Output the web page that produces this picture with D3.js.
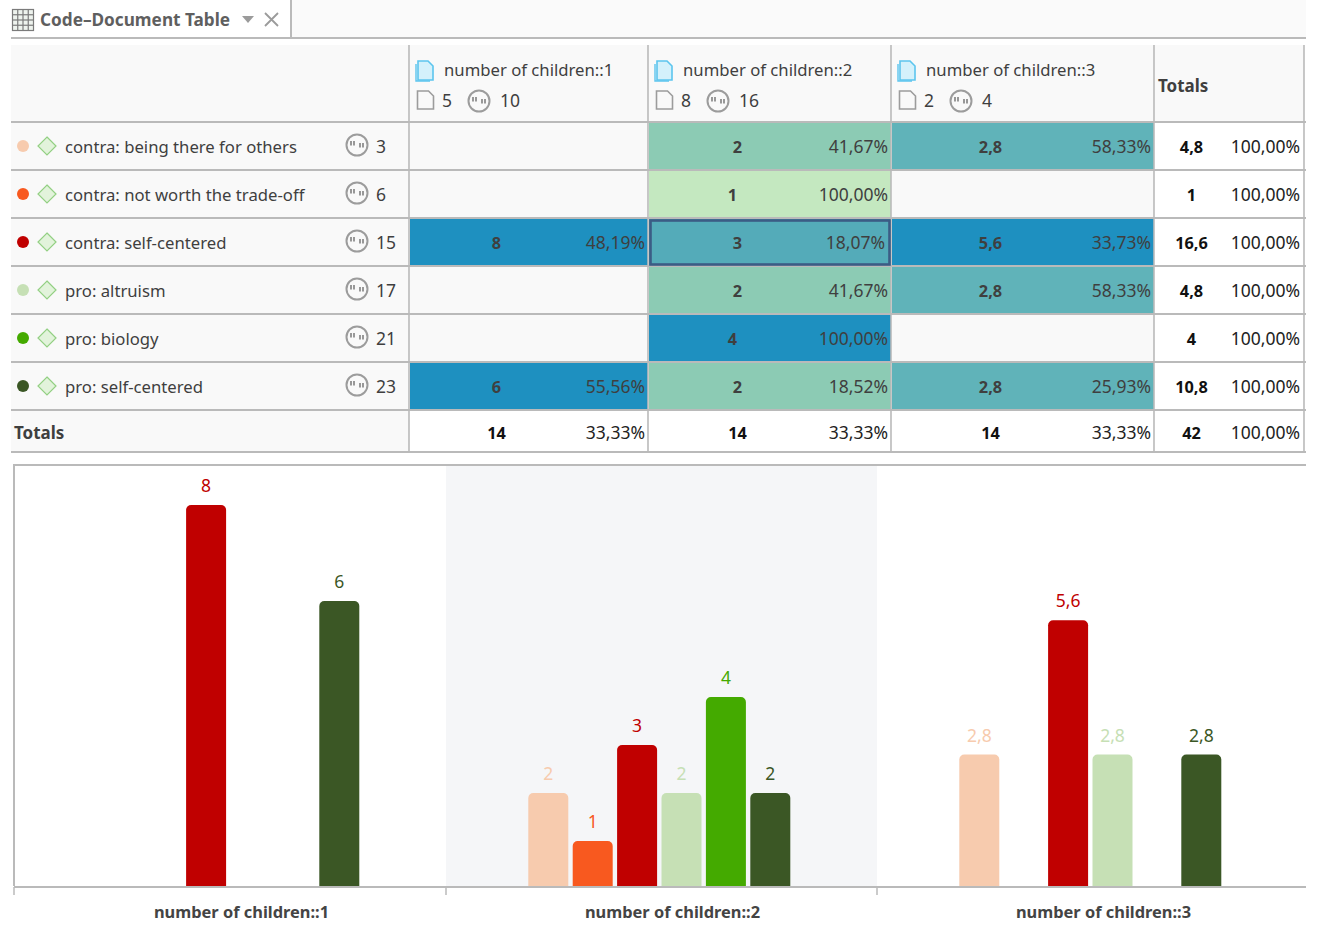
<!DOCTYPE html>
<html>
<head>
<meta charset="utf-8">
<script src="https://cdnjs.cloudflare.com/ajax/libs/d3/7.8.5/d3.min.js"></script>
<style>
html, body { margin: 0; padding: 0; background: #fff; }
svg { display: block; }
text { font-family: "Noto Sans", "Open Sans", sans-serif; fill: #3f3f3f; }
</style>
</head>
<body>
<svg></svg>
<script>
// data
var codes = ["contra: being there for others", "contra: not worth the trade-off", "contra: self-centered", "pro: altruism", "pro: biology", "pro: self-centered"];
var codeCounts = [3, 6, 15, 17, 21, 23];
var codeColors = ["#f7cbae", "#f8591f", "#c00000", "#c6e0b5", "#44aa00", "#3b5725"];
var groups = ["number of children::1", "number of children::2", "number of children::3"];
var groupDocs = [5, 8, 2];
var groupSegments = [10, 16, 4];
var valuesGroup1 = [null, null, 8, null, null, 6];
var valuesGroup2 = [2, 1, 3, 2, 4, 2];
var valuesGroup3 = [2.8, null, 5.6, 2.8, null, 2.8];
var columnTotals = [14, 14, 14];
var grandTotal = 42;
var allValues = [valuesGroup1, valuesGroup2, valuesGroup3];

var svgWidth = 1321, svgHeight = 947;
var svg = d3.select("svg").attr("width", svgWidth).attr("height", svgHeight);

var locale = d3.formatLocale({decimal: ",", thousands: ".", grouping: [3], currency: ["", ""]});
var pct = locale.format(".2f");
var fmtValue = function(v) { return String(v).replace(".", ","); };
var fmtPct = function(share) { return pct(share * 100) + "%"; };

var lineColor = "#bababa", panelColor = "#f9f9f9";
var numSize = 17.5, nameSize = 16.7, boldSize = 16.3;

// cell shading goes by value
var heat = d3.scaleThreshold()
    .domain([1.5, 2.5, 2.9, 3.5])
    .range(["#c4e8c0", "#8ccbb4", "#60b3b9", "#54abb9", "#1e90c0"]);

// ---- tab strip
svg.append("rect").attr("x", 291).attr("y", 0).attr("width", 1015).attr("height", 38).attr("fill", "#fafafa");
svg.append("line").attr("x1", 11).attr("x2", 1306).attr("y1", 38).attr("y2", 38).attr("stroke", lineColor).attr("stroke-width", 2);
svg.append("line").attr("x1", 291).attr("x2", 291).attr("y1", 0).attr("y2", 38).attr("stroke", lineColor).attr("stroke-width", 2);

var tabIcon = svg.append("g").attr("fill", "none").attr("stroke", "#7b7b7b").attr("stroke-width", 1.2);
tabIcon.append("rect").attr("x", 12.5).attr("y", 9.5).attr("width", 21).attr("height", 21).attr("fill", "#eef3ee");
d3.range(1, 4).forEach(function(i) {
    tabIcon.append("line").attr("x1", 12.5 + i * 5.25).attr("x2", 12.5 + i * 5.25).attr("y1", 9.5).attr("y2", 30.5);
    tabIcon.append("line").attr("x1", 12.5).attr("x2", 33.5).attr("y1", 9.5 + i * 5.25).attr("y2", 9.5 + i * 5.25);
});
svg.append("text").attr("x", 40).attr("y", 26).attr("font-size", 17.2).attr("font-weight", 700).style("fill", "#5f5f5f").text("Code–Document Table");
svg.append("path").attr("d", "M242,16h12l-6,7z").attr("fill", "#9b9b9b");
svg.append("path").attr("d", "M265,13l13,13M278,13l-13,13").attr("stroke", "#9b9b9b").attr("stroke-width", 1.8).attr("fill", "none");

// ---- table
var colEdges = [409, 648, 891, 1154, 1304];
var rowTop = d3.scaleBand().domain(d3.range(codes.length)).range([122, 410]);
var headerTop = 45, totalsBottom = 452;

svg.append("rect").attr("x", 11).attr("y", headerTop).attr("width", 1293).attr("height", totalsBottom - headerTop).attr("fill", panelColor);
svg.append("rect").attr("x", 409).attr("y", 410).attr("width", 895).attr("height", 42).attr("fill", "#fff");
svg.append("rect").attr("x", 1154).attr("y", 122).attr("width", 150).attr("height", 288).attr("fill", "#fff");

function icons(g, cx, cy) {
    g.append("circle").attr("cx", cx).attr("cy", cy).attr("r", 10.5).attr("fill", "none").attr("stroke", "#9c9c9c").attr("stroke-width", 2);
    g.append("path").attr("d", "M" + (cx - 6) + "," + (cy - 4) + "v4.5M" + (cx - 3) + "," + (cy - 4) + "v4.5M" + (cx + 3) + "," + (cy - 2) + "v4.5M" + (cx + 6) + "," + (cy - 2) + "v4.5")
        .attr("stroke", "#808080").attr("stroke-width", 1.6).attr("fill", "none");
}

function docIcon(g, x, y, w, h, fill, stroke) {
    g.append("path")
        .attr("d", "M" + x + "," + y + "h" + (w - 5) + "l5,5v" + (h - 5) + "h" + (-w) + "z")
        .attr("fill", fill).attr("stroke", stroke).attr("stroke-width", 1.6);
}

// header cells
var heads = svg.selectAll("g.head").data(groups).enter().append("g").attr("class", "head");
heads.each(function(name, i) {
    var g = d3.select(this), x0 = colEdges[i];
    docIcon(g, x0 + 9, 61, 15, 19, "#d4f1fb", "#5cc5ee");
    g.append("path").attr("d", "M" + (x0 + 7) + ",64v17h14").attr("fill", "none").attr("stroke", "#5cc5ee").attr("stroke-width", 1.4);
    g.append("text").attr("x", x0 + 35).attr("y", 76).attr("font-size", nameSize).text(name);
    docIcon(g, x0 + 8.5, 91, 16, 18, "none", "#9c9c9c");
    g.append("text").attr("x", x0 + 33).attr("y", 107).attr("font-size", numSize).text(groupDocs[i]);
    icons(g, x0 + 70, 101);
    g.append("text").attr("x", x0 + 91).attr("y", 107).attr("font-size", numSize).text(groupSegments[i]);
});
svg.append("text").attr("x", 1158).attr("y", 92).attr("font-size", 17).attr("font-weight", 700).text("Totals");

// body rows
var rows = svg.selectAll("g.row").data(codes).enter().append("g").attr("class", "row")
    .attr("transform", function(d, i) { return "translate(0," + rowTop(i) + ")"; });

rows.each(function(name, r) {
    var g = d3.select(this);
    var rowTotal = d3.sum(allValues, function(col) { return col[r]; });
    g.append("circle").attr("cx", 23).attr("cy", 24).attr("r", 6).attr("fill", codeColors[r]);
    g.append("path").attr("d", "M47,15l9,9l-9,9l-9,-9z").attr("fill", "#e2f3db").attr("stroke", "#93d083").attr("stroke-width", 1.2);
    g.append("text").attr("x", 65).attr("y", 31).attr("font-size", nameSize).text(name);
    icons(g, 357, 23);
    g.append("text").attr("x", 376).attr("y", 31).attr("font-size", numSize).text(codeCounts[r]);

    allValues.forEach(function(col, c) {
        var v = col[r];
        if (v === null) return;
        var x0 = colEdges[c], x1 = colEdges[c + 1];
        var share = v / rowTotal;
        var selected = r === 2 && c === 1;
        g.append("rect").attr("x", x0 + 1).attr("y", 1).attr("width", x1 - x0 - 1).attr("height", 47).attr("fill", heat(v));
        // the number sits a little to the left when the share is wider
        g.append("text").attr("x", (x0 + x1) / 2 - 32 - (share === 1 ? 5 : 0))
            .attr("y", 31).attr("font-size", boldSize).attr("font-weight", 700).attr("text-anchor", "middle").text(fmtValue(v));
        g.append("text").attr("x", x1 - (selected ? 6 : 3)).attr("y", 31).attr("font-size", numSize).attr("text-anchor", "end").text(fmtPct(share));
    });

    g.append("text").attr("x", 1191.5).attr("y", 31).attr("font-size", boldSize).attr("font-weight", 700).attr("text-anchor", "middle").style("fill", "#111").text(fmtValue(Math.round(rowTotal * 10) / 10));
    g.append("text").attr("x", 1300).attr("y", 31).attr("font-size", numSize).attr("text-anchor", "end").style("fill", "#222").text(fmtPct(1));
});

// totals row
svg.append("text").attr("x", 14).attr("y", 439).attr("font-size", 17).attr("font-weight", 700).text("Totals");
columnTotals.forEach(function(t, c) {
    var x0 = colEdges[c], x1 = colEdges[c + 1];
    svg.append("text").attr("x", (x0 + x1) / 2 - 32).attr("y", 439).attr("font-size", boldSize).attr("font-weight", 700).attr("text-anchor", "middle").style("fill", "#111").text(t);
    svg.append("text").attr("x", x1 - 3).attr("y", 439).attr("font-size", numSize).attr("text-anchor", "end").style("fill", "#222").text(fmtPct(t / grandTotal));
});
svg.append("text").attr("x", 1191.5).attr("y", 439).attr("font-size", boldSize).attr("font-weight", 700).attr("text-anchor", "middle").style("fill", "#111").text(grandTotal);
svg.append("text").attr("x", 1300).attr("y", 439).attr("font-size", numSize).attr("text-anchor", "end").style("fill", "#222").text(fmtPct(1));

// grid lines
var gridY = [122].concat(codes.map(function(d, i) { return rowTop(i) + rowTop.step(); })).concat([totalsBottom]);
svg.selectAll("line.gridy").data(gridY).enter().append("line").attr("class", "gridy")
    .attr("x1", 11).attr("x2", 1306).attr("y1", function(d) { return d; }).attr("y2", function(d) { return d; })
    .attr("stroke", lineColor).attr("stroke-width", 2);
svg.selectAll("line.gridx").data(colEdges).enter().append("line").attr("class", "gridx")
    .attr("x1", function(d) { return d; }).attr("x2", function(d) { return d; })
    .attr("y1", headerTop).attr("y2", totalsBottom)
    .attr("stroke", lineColor).attr("stroke-width", 1.6);

// selected cell outline
svg.append("rect").attr("x", 650.5).attr("y", rowTop(2) + 2.5).attr("width", 239).attr("height", 44)
    .attr("fill", "none").attr("stroke", "#3b5c85").attr("stroke-width", 2.6);

// ---- bar chart
var baseY = 886;
var x = d3.scaleBand().domain(groups).range([15, 1308]);
var inner = d3.scaleBand().domain(codes).range([-135.4, 131]);
var y = d3.scaleLinear().domain([0, 8]).range([889, 505]);
var barWidth = 40, corner = 5;

svg.append("rect").attr("x", x(groups[1])).attr("y", 466).attr("width", x.bandwidth()).attr("height", baseY - 466).attr("fill", "#f5f6f8");
svg.append("path").attr("d", "M14,886V465H1306").attr("fill", "none").attr("stroke", lineColor).attr("stroke-width", 2);

function barPath(left, top) {
    var p = d3.path();
    p.moveTo(left, baseY);
    p.lineTo(left, top + corner);
    p.arcTo(left, top, left + corner, top, corner);
    p.lineTo(left + barWidth - corner, top);
    p.arcTo(left + barWidth, top, left + barWidth, top + corner, corner);
    p.lineTo(left + barWidth, baseY);
    p.closePath();
    return p.toString();
}

var barGroups = svg.selectAll("g.bars").data(groups).enter().append("g").attr("class", "bars")
    .attr("transform", function(d) { return "translate(" + (x(d) + x.bandwidth() / 2) + ",0)"; });

barGroups.each(function(name, c) {
    var g = d3.select(this);
    var items = codes.map(function(code, r) { return {code: code, color: codeColors[r], value: allValues[c][r]}; })
        .filter(function(d) { return d.value !== null; });
    g.selectAll("path").data(items).enter().append("path")
        .attr("d", function(d) { return barPath(inner(d.code) + inner.bandwidth() / 2 - barWidth / 2, y(d.value)); })
        .attr("fill", function(d) { return d.color; });
    g.selectAll("text").data(items).enter().append("text")
        .attr("x", function(d) { return inner(d.code) + inner.bandwidth() / 2; })
        .attr("y", function(d) { return y(d.value) - 13; })
        .attr("text-anchor", "middle").attr("font-size", 17.5)
        .style("fill", function(d) { return d.color; })
        .text(function(d) { return fmtValue(d.value); });
});

// axis, with its ticks moved out to the band edges
var axis = svg.append("g").attr("transform", "translate(0," + (baseY + 1) + ")")
    .call(d3.axisBottom(x).tickSize(0).tickPadding(19));
axis.select(".domain").attr("d", "M14,0H1306").attr("stroke", lineColor).attr("stroke-width", 2);
axis.selectAll("text").attr("dx", 11).attr("font-size", 16.4).attr("font-weight", 700)
    .attr("font-family", '"Noto Sans"').style("fill", "#444");
svg.selectAll("line.bandtick").data([14, x(groups[1]), x(groups[2])]).enter().append("line").attr("class", "bandtick")
    .attr("x1", function(d) { return d; }).attr("x2", function(d) { return d; })
    .attr("y1", baseY + 1).attr("y2", 895).attr("stroke", lineColor).attr("stroke-width", 1.5);
</script>
</body>
</html>
